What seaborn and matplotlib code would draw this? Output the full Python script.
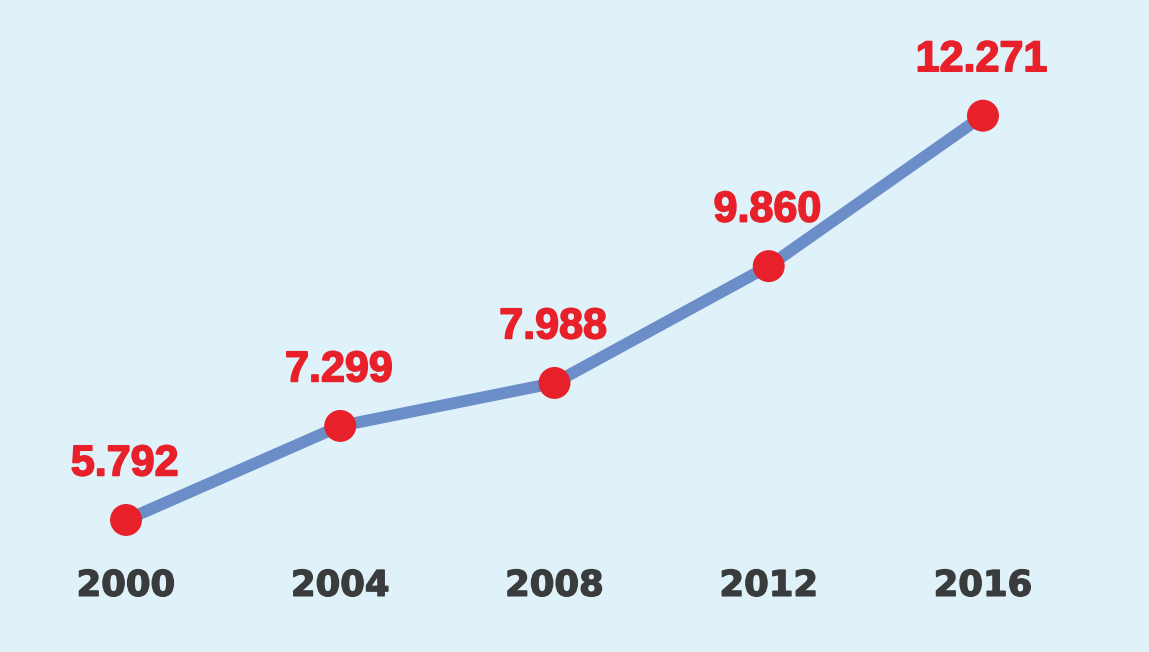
import matplotlib
matplotlib.use("Agg")
import matplotlib.pyplot as plt
import matplotlib.patheffects as pe
import seaborn as sns
import pandas as pd

years = [2000, 2004, 2008, 2012, 2016]
values = [5.792, 7.299, 7.988, 9.860, 12.271]
value_labels = ["5.792", "7.299", "7.988", "9.860", "12.271"]
year_labels = ["2000", "2004", "2008", "2012", "2016"]

bg = "#dff1f9"
line_color = "#6b8dc8"
red = "#e8202a"
dark = "#3a3b3d"

df = pd.DataFrame({"year": years, "value": values})

sns.set_theme(style="white")
fig = plt.figure(figsize=(11.49, 6.52), dpi=100, facecolor=bg)
ax = fig.add_axes([0, (652 - 548) / 652, 1, 548 / 652])
ax.set_facecolor(bg)

sns.lineplot(data=df, x="year", y="value", ax=ax, color=line_color, linewidth=8.5,
             solid_capstyle="butt", zorder=2)
sns.scatterplot(data=df, x="year", y="value", ax=ax, color=red, s=23 ** 2,
                edgecolor="none", zorder=3)

ax.set_xlim(1997.647, 2019.10)
ax.set_ylim(5.343, 14.125)

for x, y, lab in zip(years, values, value_labels):
    ax.annotate(lab, (x, y), xytext=(-1, 40), textcoords="offset points",
                ha="center", va="center", color=red, fontsize=31,
                fontweight="bold", family="Liberation Sans",
                path_effects=[pe.withStroke(linewidth=1.2, foreground=red)])

ax.set_xticks(years)
ax.set_xticklabels(year_labels, fontsize=25.5, fontweight="bold",
                   family="DejaVu Sans", color=dark,
                   path_effects=[pe.withStroke(linewidth=1.0, foreground=dark)])
ax.set_yticks([])
ax.tick_params(axis="x", length=0, pad=15)
ax.set_xlabel("")
ax.set_ylabel("")
for s in ax.spines.values():
    s.set_visible(False)

fig.savefig("out.png", dpi=100, facecolor=bg)
